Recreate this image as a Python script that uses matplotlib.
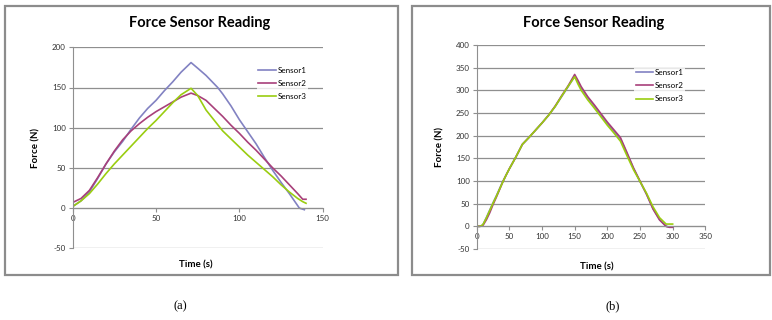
import numpy as np
import matplotlib.pyplot as plt
from matplotlib.patches import Rectangle

plt.rcParams["axes.unicode_minus"] = False

# panel (a) readings
t_a = [0, 5, 10, 15, 20, 25, 30, 35, 40, 45, 50, 55, 60, 65, 71, 75, 80, 87, 90, 95,
       100, 105, 110, 115, 120, 125, 130, 136, 139]
s1_a = [2, 9, 20, 37, 55, 70, 83, 98, 112, 124, 134, 146, 157, 169, 181, 174, 165, 150, 142, 127,
        110, 95, 80, 63, 47, 32, 18, 0, -2]
t_a23 = [0, 5, 10, 15, 20, 25, 30, 35, 40, 45, 50, 55, 60, 65, 71, 75, 80, 85, 90, 95,
         100, 105, 110, 115, 120, 125, 130, 135, 138, 140]
s2_a = [7, 12, 22, 38, 55, 71, 85, 96, 105, 113, 120, 126, 132, 138, 143, 140, 134, 124, 114, 103,
        93, 82, 72, 61, 50, 40, 29, 18, 11, 11]
s3_a = [2, 9, 18, 30, 43, 55, 66, 77, 88, 99, 109, 120, 131, 141, 149, 140, 122, 109, 96, 86,
        76, 66, 57, 48, 39, 29, 20, 12, 8, 6]

# panel (b) readings
t_b = [0, 5, 8, 10, 15, 20, 25, 30, 35, 40, 45, 50, 55, 60, 65, 70, 80, 90, 100, 110,
       120, 130, 140, 150, 155, 160, 170, 180, 190, 200, 210, 220, 230, 240, 250, 260,
       270, 280, 290, 295, 300]
s1_b = [0, 0, 2, 5, 20, 36, 52, 67, 83, 99, 113, 127, 140, 153, 167, 181, 196, 212, 228, 245,
        264, 286, 308, 331, 318, 305, 284, 266, 246, 227, 210, 193, 161, 128, 99, 71,
        39, 15, 0, -2, -2]
s2_b = [0, 0, 1, 3, 15, 30, 48, 64, 81, 98, 113, 127, 140, 153, 167, 181, 196, 212, 228, 245,
        265, 288, 310, 335, 322, 308, 286, 268, 249, 230, 213, 196, 163, 129, 100, 71,
        38, 14, 0, -2, -2]
s3_b = [0, 0, 2, 5, 19, 35, 51, 66, 82, 98, 113, 127, 140, 153, 167, 181, 196, 212, 228, 245,
        264, 287, 309, 330, 314, 300, 279, 261, 242, 223, 206, 188, 156, 125, 99, 73,
        43, 19, 5, 5, 5]

labels = ["Sensor1", "Sensor2", "Sensor3"]
colors = ["#8282C2", "#A8407A", "#9ACD10"]
font = "Lato"

fig = plt.figure(figsize=(7.72, 3.2), dpi=100)

# panel borders
for x0, x1 in [(5, 398), (412, 770)]:
    fig.patches.append(Rectangle((x0 / 772, 1 - 275 / 320), (x1 - x0) / 772, 269 / 320,
                                 transform=fig.transFigure, fill=False,
                                 edgecolor="#8c8c8c", linewidth=1.6))


def panel(rect, xs, ys, xmax, ymax, yticks, title, title_x, leg_anchor):
    ax = fig.add_axes(rect)
    for x, y, c, lab in zip(xs, ys, colors, labels):
        ax.plot(x, y, color=c, linewidth=1.2, label=lab)
    ax.set_xlim(0, xmax)
    ax.set_ylim(-50, ymax)
    ax.set_xticks(np.arange(0, xmax + 1, 50))
    ax.set_yticks(yticks)
    ax.grid(axis="y", color="#8f8f8f", linewidth=0.9)
    ax.set_axisbelow(True)
    for s in ["top", "right"]:
        ax.spines[s].set_visible(False)
    ax.spines["bottom"].set_position(("data", 0))
    ax.spines["bottom"].set_color("#8f8f8f")
    ax.spines["left"].set_color("#8f8f8f")
    ax.tick_params(length=3, width=0.8, color="#8f8f8f", labelsize=5.8,
                   labelcolor="#333333", pad=2)
    for lab in ax.get_xticklabels() + ax.get_yticklabels():
        lab.set_family(font)
    ax.set_ylabel("Force (N)", fontsize=7, fontweight="bold", family=font, labelpad=8)
    fig.text(title_x, 1 - 23 / 320, title, ha="center", va="center", fontsize=10.5,
             fontweight="bold", family=font)
    leg = ax.legend(loc="center left", bbox_to_anchor=leg_anchor, frameon=True,
                    edgecolor="none", fancybox=False, handlelength=2.2, handletextpad=0.2,
                    labelspacing=0.75, borderpad=0.2, prop={"family": font, "size": 5.8})
    leg.get_frame().set_linewidth(0)
    return ax


ax1 = panel([72.7 / 772, 1 - 248.3 / 320, 250 / 772, 201 / 320],
            [t_a, t_a23, t_a23], [s1_a, s2_a, s3_a], 150, 200,
            [-50, 0, 50, 100, 150, 200], "Force Sensor Reading", 200 / 772, (0.72, 0.82))
ax2 = panel([476.7 / 772, 1 - 249 / 320, 228.6 / 772, 204 / 320],
            [t_b, t_b, t_b], [s1_b, s2_b, s3_b], 350, 400,
            [-50, 0, 50, 100, 150, 200, 250, 300, 350, 400], "Force Sensor Reading",
            594 / 772, (0.67, 0.80))

fig.text(196 / 772, 1 - 265 / 320, "Time (s)", ha="center", va="center", fontsize=7,
         fontweight="bold", family=font)
fig.text(597 / 772, 1 - 267 / 320, "Time (s)", ha="center", va="center", fontsize=7,
         fontweight="bold", family=font)

fig.text(180 / 772, 1 - 306 / 320, "(a)", ha="center", va="center", fontsize=9,
         family="Liberation Serif")
fig.text(613 / 772, 1 - 306 / 320, "(b)", ha="center", va="center", fontsize=9,
         family="Liberation Serif")

fig.savefig("out.png", dpi=100)
